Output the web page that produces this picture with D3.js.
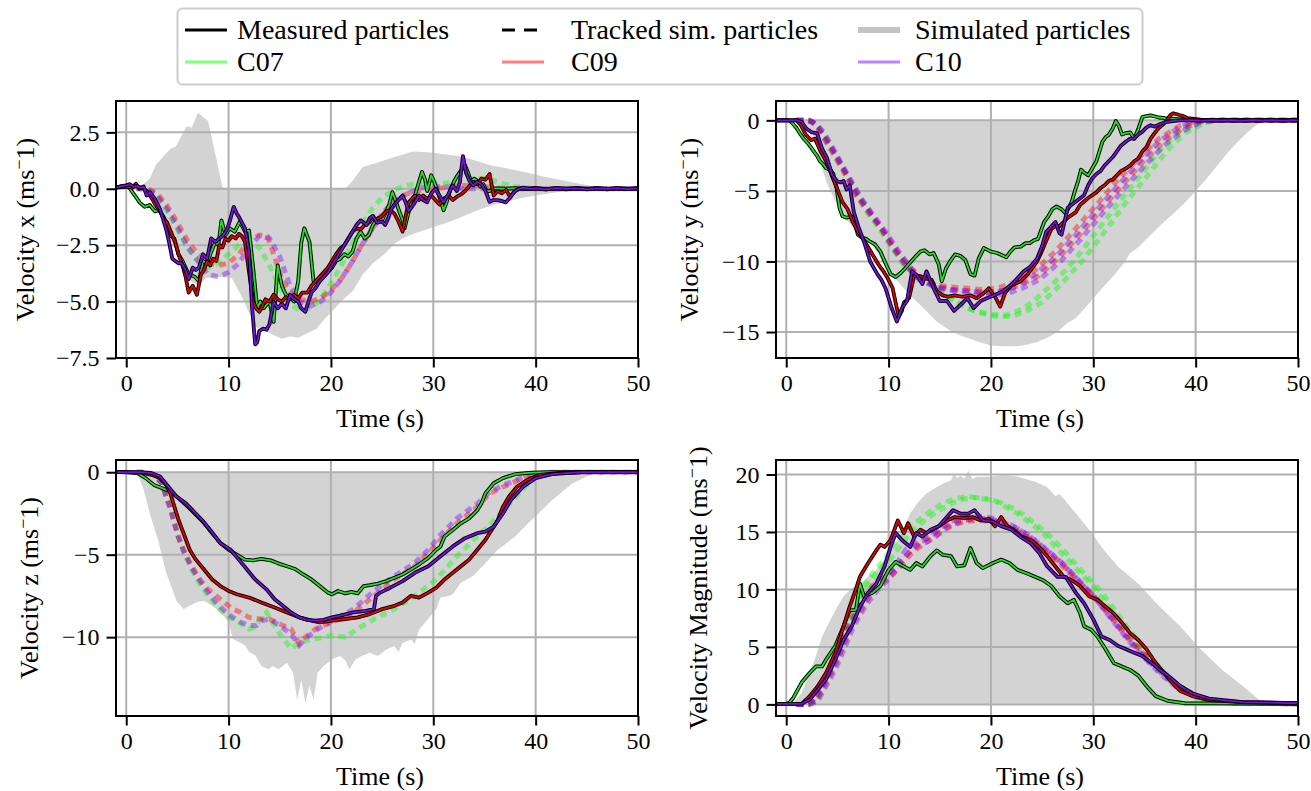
<!DOCTYPE html>
<html><head><meta charset="utf-8">
<script src="https://cdn.jsdelivr.net/npm/d3@7"></script>
<style>
body{margin:0;background:#fff}
svg{display:block}
text{font-family:"Liberation Serif","Times New Roman",serif;fill:#000}
</style>
</head><body>
<svg id="chart" width="1311" height="791"></svg>
<script>
// ---------------- DATA (time s, value m/s) ----------------
const TIME_TICKS = [0, 10, 20, 30, 40, 50];
const SERIES_NAMES = ["C07", "C09", "C10"];
const LEGEND_STYLE_NAMES = ["Measured particles", "Tracked sim. particles", "Simulated particles"];

// Velocity x
const vxSimUpper = [[-1,0],[1,0],[1.3,0.05],[2.3,0.45],[2.9,1.05],[3.9,1.57],[4.4,1.8],[4.8,1.85],[5.2,2.17],[5.9,2.77],[6.4,2.7],[7.0,3.37],[8.0,3.0],[9.4,0.07],[9.6,0],[21.4,0],[22.2,0.4],[23.1,0.97],[24.5,1.15],[26.3,1.42],[28.0,1.65],[30.0,1.6],[32.9,1.42],[34.5,1.2],[35.5,1.05],[38.1,0.82],[41.0,0.52],[44.3,0.22],[46.6,0.03],[47,0],[50,0]];
const vxSimLower = [[-1,0],[1.5,0],[2.5,-0.4],[3.5,-1.4],[4.5,-2.4],[5.5,-3.3],[6.3,-4.1],[7.0,-4.3],[7.8,-3.95],[9.0,-3.9],[10.3,-3.95],[11.2,-4.7],[12.0,-5.5],[12.6,-6.1],[13.6,-6.3],[14.5,-6.5],[15.2,-6.65],[16.0,-6.55],[16.8,-6.6],[17.5,-6.45],[18.6,-6.2],[19.3,-5.8],[20.2,-5.4],[21.0,-5.0],[22.2,-4.5],[23.1,-3.8],[24.1,-3.3],[25.2,-2.9],[26.3,-2.4],[27.0,-2.2],[28.0,-2.0],[30.0,-1.7],[32.0,-1.4],[34.3,-0.95],[36.0,-0.7],[38.4,-0.43],[40.0,-0.3],[42.4,-0.13],[44.5,-0.03],[45.5,0],[50,0]];
const vxMeasC07 = [[-1,0.05],[-0.5,0.1],[0,0.12],[0.3,0.05],[0.6,-0.15],[1.0,-0.4],[1.3,-0.6],[1.8,-0.8],[2.3,-0.72],[2.8,-1.0],[3.2,-0.95],[3.6,-1.2],[4.1,-1.7],[4.4,-2.1],[4.7,-2.2],[5.1,-2.9],[5.5,-3.2],[6.1,-3.8],[6.7,-3.9],[7.1,-4.1],[7.5,-3.2],[7.9,-3.3],[8.3,-2.8],[8.7,-2.35],[9.0,-2.5],[9.3,-1.4],[9.7,-2.05],[10.1,-1.75],[10.6,-1.9],[11.1,-1.45],[11.6,-1.9],[12.0,-1.85],[12.4,-3.5],[12.8,-5.3],[13.1,-5.0],[13.4,-5.3],[14.0,-5.0],[14.4,-5.9],[14.8,-3.4],[15.2,-4.3],[15.6,-4.7],[16.0,-4.8],[16.4,-5.0],[16.8,-4.1],[17.1,-2.4],[17.4,-1.75],[17.9,-2.35],[18.3,-4.1],[18.9,-4.1],[19.3,-3.9],[19.7,-3.7],[20.1,-3.5],[20.5,-3.2],[20.9,-3.1],[21.3,-2.9],[21.7,-3.0],[22.1,-2.8],[22.5,-2.2],[22.9,-1.9],[23.3,-2.2],[23.7,-2.05],[24.1,-1.6],[24.6,-1.3],[25.0,-1.4],[25.4,-1.0],[25.7,-0.7],[26.0,-0.15],[26.3,-0.5],[26.6,-0.9],[27.0,-1.4],[27.2,-1.75],[27.5,-1.2],[27.8,-0.6],[28.2,-0.3],[28.6,0.3],[28.9,0.75],[29.2,0.4],[29.4,-0.1],[29.8,0.6],[30.1,0.3],[30.4,-0.1],[30.7,-0.5],[31.0,-0.95],[31.3,-0.6],[31.7,0.0],[32.0,0.3],[32.3,0.55],[32.7,0.8],[33.1,1.05],[33.4,0.7],[33.7,0.3],[34.0,0.45],[34.3,0.35],[34.6,0.1],[34.9,0.2],[35.2,-0.1],[35.5,-0.1],[36.0,0.02],[37,0.0],[38,0.03],[39,-0.02],[40,0.02],[41,-0.03],[42,0.02],[43,0.0],[44,0.03],[45,-0.02],[46,0.02],[47,-0.03],[48,0.02],[49,0.0],[50,0.02]];
const vxMeasC09 = [[-1,0.05],[0,0.1],[0.6,0.05],[0.95,0.22],[1.3,0.0],[1.6,0.05],[2.0,-0.1],[2.3,-0.3],[2.6,-0.5],[2.9,-0.75],[3.3,-1.0],[3.7,-1.35],[4.0,-1.5],[4.4,-1.95],[4.8,-2.4],[5.1,-2.9],[5.5,-3.4],[5.8,-3.9],[6.1,-4.6],[6.5,-4.3],[6.9,-4.7],[7.3,-3.8],[7.6,-3.6],[7.9,-3.2],[8.2,-3.4],[8.5,-3.1],[8.8,-3.2],[9.1,-2.5],[9.4,-2.6],[9.7,-2.2],[10.0,-2.3],[10.3,-2.1],[10.7,-2.2],[11.0,-2.0],[11.3,-2.1],[11.6,-2.35],[12.0,-3.7],[12.4,-5.0],[12.7,-5.3],[13.0,-5.45],[13.3,-5.2],[13.6,-4.9],[14.0,-5.0],[14.4,-4.7],[14.8,-4.9],[15.2,-5.0],[15.6,-4.8],[16.0,-4.9],[16.4,-4.7],[16.8,-4.85],[17.2,-4.6],[17.7,-4.6],[18.1,-4.3],[18.5,-4.1],[18.9,-3.9],[19.3,-3.7],[19.7,-3.5],[20.1,-3.2],[20.5,-2.9],[20.9,-2.65],[21.3,-2.5],[21.7,-2.2],[22.1,-1.9],[22.5,-1.75],[22.9,-1.8],[23.3,-1.6],[23.7,-1.5],[24.1,-1.3],[24.5,-1.35],[25.0,-1.2],[25.4,-1.0],[25.8,-0.95],[26.2,-1.1],[26.6,-1.45],[27.0,-1.9],[27.3,-1.2],[27.6,-0.6],[28.0,-0.4],[28.2,-0.3],[28.6,-0.5],[29.0,-0.3],[29.4,-0.45],[29.8,-0.3],[30.2,-0.5],[30.6,-0.7],[31.0,-0.45],[31.5,-0.3],[31.9,-0.5],[32.3,-0.35],[32.7,-0.25],[33.1,-0.1],[33.5,0.1],[33.9,0.3],[34.3,0.2],[34.7,0.45],[35.1,0.4],[35.5,0.65],[35.9,-0.3],[36.3,-0.1],[36.7,-0.2],[37.1,-0.05],[37.5,-0.35],[38.1,-0.05],[38.5,0.02],[39,0.0],[40,0.03],[41,-0.02],[42,0.02],[43,-0.03],[44,0.02],[45,0.0],[46,0.03],[47,-0.02],[48,0.02],[49,-0.02],[50,0.02]];
const vxMeasC10 = [[-1,0.05],[-0.5,0.12],[0,0.15],[0.3,0.2],[0.7,0.1],[1.0,0.12],[1.4,0.05],[1.7,0.1],[2.0,-0.3],[2.3,-0.15],[2.8,-0.45],[3.3,-0.9],[3.6,-1.35],[3.9,-1.8],[4.2,-2.4],[4.5,-3.1],[4.8,-3.2],[5.1,-3.3],[5.4,-3.3],[5.7,-3.5],[6.1,-4.0],[6.5,-3.5],[6.8,-3.6],[7.1,-3.5],[7.5,-2.9],[7.9,-3.1],[8.3,-2.2],[8.7,-2.35],[9.1,-2.2],[9.5,-2.05],[9.9,-1.75],[10.2,-1.3],[10.5,-0.8],[10.8,-1.1],[11.0,-1.24],[11.3,-1.5],[11.6,-1.75],[12.0,-2.8],[12.3,-5.3],[12.6,-6.9],[12.8,-6.8],[13.0,-6.3],[13.4,-6.2],[13.7,-6.25],[14.0,-6.0],[14.4,-5.0],[14.8,-5.3],[15.2,-5.1],[15.6,-5.3],[16.0,-4.7],[16.4,-4.9],[16.8,-5.0],[17.1,-5.3],[17.5,-5.45],[17.8,-5.0],[18.1,-4.6],[18.5,-4.4],[18.9,-4.1],[19.3,-3.9],[19.7,-3.7],[20.1,-3.4],[20.5,-3.1],[20.9,-2.8],[21.3,-2.5],[21.7,-2.2],[22.1,-1.9],[22.5,-1.6],[22.9,-1.4],[23.2,-1.5],[23.5,-1.6],[23.8,-1.3],[24.1,-1.2],[24.5,-1.5],[25.0,-1.45],[25.3,-1.6],[25.6,-1.3],[25.9,-0.9],[26.2,-0.7],[26.6,-0.5],[27.0,-0.3],[27.3,-0.6],[27.6,-1.0],[27.9,-0.8],[28.2,-0.6],[28.6,-0.3],[29.0,-0.5],[29.4,-0.6],[29.8,-0.2],[30.2,0.0],[30.6,-0.3],[31.0,-0.6],[31.4,-0.3],[31.9,0.15],[32.3,-0.1],[32.6,0.3],[32.9,1.45],[33.2,0.7],[33.6,0.3],[33.9,0.15],[34.3,0.3],[34.7,0.2],[35.1,-0.1],[35.5,-0.58],[35.9,-0.5],[36.3,-0.5],[36.7,-0.55],[37.1,-0.6],[37.5,-0.4],[37.9,-0.13],[38.4,0.0],[38.8,0.05],[39.5,0.0],[40,0.02],[41,-0.03],[42,0.03],[43,0.0],[44,0.02],[45,-0.03],[46,0.02],[47,0.0],[48,0.03],[49,-0.02],[50,0.02]];
const vxTrackC07 = [[1,0],[2,0],[3,-0.3],[4,-1.0],[5,-1.8],[6,-2.6],[7,-3.2],[8,-3.5],[9,-3.3],[10,-2.9],[11,-2.5],[12,-2.4],[13,-2.6],[14,-3.4],[15,-4.4],[16,-5.1],[17,-5.4],[18,-5.3],[19,-4.9],[20,-4.2],[21,-3.4],[22,-2.5],[23,-1.6],[24,-0.9],[25,-0.4],[26,-0.1],[27,0.1],[28,0.2],[29,0.25],[30,0.25],[31,0.25],[32,0.3],[33,0.4],[34,0.45],[35,0.45],[36,0.35],[37,0.2],[38,0.1],[39,0.05],[40,0],[50,0]];
const vxTrackC09 = [[1,0],[2,0],[2.6,-0.1],[3,-0.2],[4,-0.75],[5,-1.5],[6,-2.3],[7,-2.9],[8,-3.3],[9,-3.4],[10,-3.3],[11,-2.9],[12,-2.3],[13,-2.05],[13.8,-2.1],[14.4,-2.9],[15.2,-4.0],[16,-4.6],[17,-4.9],[18,-5.0],[19,-4.85],[20,-4.5],[21,-4.0],[22,-3.3],[23,-2.5],[24,-1.8],[25,-1.1],[26,-0.6],[27,-0.3],[28,-0.15],[29,-0.05],[30,0],[31,0.05],[32,0.1],[33,0.15],[34,0.15],[35,0.1],[36,0.05],[37,0],[50,0]];
const vxTrackC10 = [[1,0],[2,0],[3,-0.3],[4,-0.9],[5,-1.7],[6,-2.6],[7,-3.2],[8,-3.8],[9,-3.9],[10,-3.7],[11,-3.3],[12,-2.6],[13,-2.1],[14,-2.2],[15,-3.0],[16,-4.3],[17,-5.0],[18,-5.2],[19,-5.0],[20,-4.6],[21,-4.0],[22,-3.3],[23,-2.5],[24,-1.8],[25,-1.2],[26,-0.7],[27,-0.35],[28,-0.1],[29,0.05],[30,0.1],[31,0.1],[32,0.05],[33,0],[50,0]];

// Velocity y
const vySimUpper = [[-1,0],[50,0]];
const vySimLower = [[-1,0],[1.5,0],[2,-0.3],[2.6,-1.0],[3,-2.0],[3.3,-3.0],[4,-4.5],[4.96,-6.0],[5.8,-7.0],[6.6,-7.6],[7.4,-8.1],[8.2,-8.6],[9.0,-9.5],[9.8,-10.5],[11,-11.5],[12.1,-12.4],[13.4,-13.3],[14.7,-14.25],[16,-14.9],[17,-15.25],[18,-15.5],[19,-15.75],[20,-15.95],[21.2,-16.0],[22.5,-16.0],[23.5,-15.9],[24.5,-15.7],[25.5,-15.4],[26.5,-15.0],[27.4,-14.4],[28.3,-14.0],[29.2,-13.3],[30,-12.6],[31,-11.8],[32,-11.0],[33,-10.1],[33.6,-9.4],[34.4,-9.0],[35.5,-8.2],[36.9,-7.2],[38,-6.5],[39,-5.8],[40,-5.0],[41,-4.2],[42,-3.3],[43,-2.4],[44,-1.6],[45,-0.9],[45.7,-0.45],[46.4,-0.15],[47,-0.03],[47.5,0],[50,0]];
const vyMeasC07 = [[-1,0],[0,0.02],[0.3,0],[0.6,-0.2],[1.05,-0.6],[1.4,-1.0],[1.7,-1.3],[2.2,-1.7],[2.7,-2.2],[3.0,-2.5],[3.3,-2.9],[3.6,-3.1],[3.9,-3.4],[4.3,-3.5],[4.6,-3.8],[4.9,-4.7],[5.2,-6.2],[5.5,-6.8],[5.9,-6.9],[6.4,-6.8],[6.6,-7.0],[7.0,-8.1],[7.4,-8.3],[7.8,-8.4],[8.2,-8.6],[8.7,-8.8],[9.2,-9.3],[9.8,-10.3],[10.2,-10.9],[10.7,-11.1],[11.2,-10.8],[11.6,-10.5],[12.2,-10.0],[12.7,-9.6],[13.1,-9.3],[13.5,-9.2],[14.0,-9.5],[14.4,-9.4],[14.9,-10.2],[15.2,-11.4],[15.6,-10.5],[16.0,-10.0],[16.5,-9.5],[17.0,-9.6],[17.5,-9.9],[18.0,-10.9],[18.4,-11.0],[18.8,-9.8],[19.3,-9.05],[20.0,-9.3],[20.6,-9.4],[21.2,-9.6],[21.5,-9.7],[21.9,-9.3],[22.3,-9.0],[22.9,-8.95],[23.4,-8.7],[23.8,-8.7],[24.2,-8.5],[24.6,-8.4],[25.2,-7.2],[25.6,-6.8],[26.0,-6.3],[26.4,-6.1],[26.9,-6.3],[27.3,-6.6],[27.6,-6.2],[27.9,-5.75],[28.2,-5.0],[28.5,-4.35],[28.8,-3.5],[29.1,-3.7],[29.5,-3.9],[29.9,-3.4],[30.3,-2.9],[30.6,-2.2],[30.9,-1.5],[31.2,-1.2],[31.5,-1.04],[31.9,-0.57],[32.2,-0.05],[32.5,-0.4],[32.8,-1.0],[33.2,-0.9],[33.6,-0.85],[34.0,-1.3],[34.4,-0.6],[34.8,0.25],[35.2,0.3],[35.6,0.35],[36.4,0.2],[37.0,0.15],[38,0.1],[39.6,0.0],[41,0.02],[42,-0.02],[43,0.02],[44,0],[45,0.02],[46,-0.02],[47,0.02],[48,0],[49,0.02],[50,0]];
const vyMeasC09 = [[-1,0],[0,0],[1.0,0],[1.4,-0.3],[1.9,-1.0],[2.4,-1.4],[2.8,-1.3],[3.3,-2.1],[3.9,-2.9],[4.5,-4.0],[5.0,-4.9],[5.5,-5.8],[6.0,-6.3],[6.5,-7.2],[7.0,-7.9],[7.5,-8.4],[8.0,-9.0],[8.5,-9.6],[9.0,-10.2],[9.5,-10.7],[10.0,-11.3],[10.4,-11.9],[10.8,-13.3],[11.0,-13.9],[11.3,-13.5],[11.5,-12.9],[12.0,-12.6],[12.5,-11.0],[13.1,-11.05],[13.6,-11.2],[14.2,-11.3],[14.7,-12.1],[15.3,-12.4],[15.8,-12.5],[16.4,-12.4],[17.2,-12.5],[18.0,-12.4],[18.6,-12.6],[19.2,-12.3],[19.8,-11.9],[20.4,-12.5],[20.9,-13.2],[21.4,-12.2],[22.0,-11.7],[22.9,-11.4],[23.6,-10.9],[24.5,-10.0],[24.9,-9.4],[25.3,-8.7],[25.9,-7.7],[26.3,-7.5],[26.7,-7.5],[27.1,-7.2],[27.5,-6.9],[28.3,-6.5],[28.7,-6.0],[29.1,-5.75],[29.5,-5.5],[29.9,-5.3],[30.3,-5.1],[30.7,-4.8],[31.1,-4.6],[31.5,-4.3],[31.9,-4.2],[32.3,-3.9],[32.7,-3.6],[33.2,-3.4],[33.6,-3.2],[34.0,-2.9],[34.4,-2.7],[34.8,-2.2],[35.2,-1.9],[35.6,-1.3],[36.0,-0.9],[36.4,-0.55],[36.8,-0.3],[37.2,0.0],[37.5,0.35],[37.8,0.5],[38.1,0.45],[38.4,0.38],[38.8,0.3],[39.2,0.15],[40.5,0.05],[41.5,0.0],[42.5,0.02],[43.5,-0.02],[44.5,0.02],[45.5,0],[46.5,0.02],[47.5,-0.02],[48.5,0.02],[49.5,0],[50,0.02]];
const vyMeasC10 = [[-1,0],[0,0],[1.0,0.02],[1.5,-0.1],[2.0,-0.6],[2.5,-0.85],[3.0,-0.9],[3.5,-2.0],[4.0,-2.7],[4.5,-3.9],[4.95,-4.3],[5.3,-4.4],[5.6,-4.3],[5.9,-4.9],[6.2,-4.6],[6.6,-6.5],[7.1,-7.65],[7.6,-8.6],[8.2,-10.0],[8.9,-10.9],[9.3,-11.3],[9.7,-11.9],[10.3,-13.3],[10.8,-14.25],[11.1,-13.7],[11.3,-13.3],[11.8,-12.8],[12.3,-10.7],[12.8,-11.0],[13.3,-11.6],[13.7,-10.7],[14.0,-11.2],[14.4,-11.9],[15.0,-12.8],[15.7,-12.8],[16.4,-13.5],[17.0,-13.1],[17.7,-12.6],[18.3,-13.3],[19.0,-12.8],[19.6,-12.6],[20.3,-12.4],[21.2,-12.1],[22.2,-11.5],[23.2,-10.7],[23.8,-10.4],[24.5,-9.8],[25.0,-8.9],[25.4,-7.9],[25.8,-7.6],[26.3,-7.2],[26.7,-8.0],[26.9,-8.1],[27.5,-6.2],[28.3,-5.75],[29.1,-5.3],[29.5,-4.6],[29.9,-4.1],[30.3,-3.8],[30.7,-3.6],[31.1,-3.2],[31.5,-2.9],[31.9,-2.6],[32.3,-2.2],[32.7,-1.8],[33.2,-1.5],[33.6,-1.3],[34.0,-1.3],[34.4,-1.0],[34.8,-0.8],[35.2,-0.5],[35.6,-0.35],[36.0,-0.45],[36.4,-0.3],[37.2,-0.1],[38.4,0],[39.5,0.02],[40.5,-0.02],[41.5,0.02],[42.5,0],[43.5,0.02],[44.5,-0.02],[45.5,0.02],[46.5,0],[47.5,0.02],[48.5,-0.02],[49.5,0.02],[50,0]];
const vyTrackC07 = [[1,0],[2,0],[2.7,-0.2],[3.4,-0.9],[4.6,-2.4],[5.9,-4.0],[7.0,-5.4],[7.9,-6.5],[8.9,-7.5],[10.2,-8.9],[11.5,-10.3],[12.8,-11.0],[14.7,-11.8],[16.4,-12.8],[18,-13.4],[20,-13.75],[21.5,-13.8],[23,-13.4],[24.2,-12.8],[26.3,-11.4],[28.3,-9.8],[30.3,-7.9],[32.3,-6.0],[34.4,-4.1],[36.4,-2.2],[38.4,-0.8],[40.5,-0.1],[42,0],[50,0]];
const vyTrackC07b = [[1,0],[2.2,0],[3.0,-0.3],[3.8,-1.0],[5.0,-2.6],[6.3,-4.3],[7.4,-5.6],[8.4,-6.8],[9.4,-7.8],[10.7,-9.2],[12.0,-10.5],[13.4,-11.3],[15.3,-12.2],[17.0,-13.0],[18.6,-13.6],[20.5,-13.9],[22.0,-13.9],[23.5,-13.5],[25.0,-12.9],[27.0,-11.5],[29.0,-9.9],[31.0,-8.0],[33.0,-6.0],[35.0,-4.2],[37.0,-2.3],[39.0,-0.9],[41.0,-0.15],[42.5,0],[50,0]];
const vyTrackC09 = [[1,0],[2,0],[2.5,-0.1],[3.1,-0.57],[4.3,-2.0],[5.6,-3.6],[6.8,-5.3],[8.0,-6.5],[9.2,-7.6],[10.4,-9.0],[11.6,-10.2],[12.9,-11.2],[14.5,-11.65],[16.1,-11.8],[17.7,-11.9],[19.4,-12.0],[21.0,-11.8],[22.6,-11.4],[24.2,-10.7],[26.3,-9.3],[28.3,-7.65],[30.3,-6.0],[32.3,-4.3],[34.4,-2.7],[36.4,-1.3],[38.4,-0.4],[40.0,-0.05],[41,0],[50,0]];
const vyTrackC09b = [[1,0],[2.2,0],[2.9,-0.3],[3.6,-0.9],[4.8,-2.4],[6.1,-4.1],[7.3,-5.6],[8.5,-6.8],[9.7,-8.0],[10.9,-9.3],[12.1,-10.4],[13.4,-11.3],[15,-11.8],[16.6,-12.0],[18.2,-12.1],[19.9,-12.2],[21.5,-12.0],[23.1,-11.6],[24.7,-11.0],[26.8,-9.6],[28.8,-8.0],[30.8,-6.3],[32.8,-4.6],[34.9,-2.9],[36.9,-1.5],[38.9,-0.5],[40.5,-0.1],[41.5,0],[50,0]];
const vyTrackC10 = [[1,0],[2,0],[2.6,-0.1],[3.2,-0.6],[4.4,-2.0],[5.7,-3.6],[6.9,-5.3],[8.1,-6.5],[9.3,-7.7],[10.5,-9.1],[11.7,-10.3],[13.0,-11.3],[14.5,-11.8],[16.1,-12.0],[17.7,-12.1],[19.4,-12.2],[21.0,-12.1],[22.6,-11.7],[24.2,-11.0],[26.3,-9.7],[28.3,-8.1],[30.3,-6.4],[32.3,-4.7],[34.4,-3.0],[36.4,-1.5],[38.4,-0.5],[40.0,-0.1],[41.5,0],[50,0]];
const vyTrackC10b = [[1,0],[2.3,0],[3.0,-0.3],[3.7,-0.9],[4.9,-2.4],[6.2,-4.1],[7.4,-5.6],[8.6,-6.8],[9.8,-8.0],[11.0,-9.3],[12.2,-10.5],[13.5,-11.4],[15,-11.9],[16.6,-12.1],[18.2,-12.3],[19.9,-12.4],[21.5,-12.3],[23.1,-11.9],[24.7,-11.3],[26.8,-10.0],[28.8,-8.4],[30.8,-6.7],[32.8,-5.0],[34.9,-3.3],[36.9,-1.8],[38.9,-0.7],[40.5,-0.15],[42,0],[50,0]];

// Velocity z
const vzSimUpper = [[-1,0],[50,0]];
const vzSimLower = [[-1,0],[1.1,-0.05],[1.7,-1.07],[2.3,-2.5],[3.1,-4.1],[3.9,-6.1],[4.5,-7.1],[4.9,-7.8],[5.6,-8.3],[6.2,-8.1],[6.8,-7.9],[7.6,-7.8],[8.4,-8.1],[9.2,-8.5],[10.0,-9.1],[10.4,-10.1],[11.0,-10.3],[11.6,-10.5],[12.0,-10.9],[12.6,-11.1],[13.2,-11.75],[13.9,-11.95],[14.3,-11.75],[14.9,-11.95],[15.7,-11.55],[16.3,-12.15],[16.7,-13.8],[17.1,-12.6],[17.5,-14.0],[17.9,-12.95],[18.3,-13.8],[18.7,-12.15],[19.3,-11.75],[20.1,-11.35],[20.9,-11.15],[21.4,-11.4],[21.8,-11.95],[22.4,-11.35],[23.0,-11.15],[23.8,-10.95],[24.6,-11.15],[25.4,-10.75],[26.2,-10.55],[26.6,-10.9],[27.0,-10.35],[27.8,-10.15],[28.2,-10.4],[28.6,-9.55],[29.5,-8.9],[30.3,-8.3],[30.7,-7.6],[31.5,-7.5],[31.9,-7.4],[32.7,-6.7],[33.9,-6.3],[35.1,-5.5],[36.3,-4.7],[38.0,-3.9],[39.6,-2.9],[41.6,-1.7],[43.6,-0.67],[45.7,-0.06],[46.5,0],[50,0]];
const vzMeasC07 = [[-1,0],[0,0],[1.1,-0.05],[1.9,-0.36],[2.7,-0.77],[3.5,-0.97],[4.3,-1.17],[5.1,-1.57],[6.0,-2.08],[6.8,-2.58],[7.6,-3.08],[8.4,-3.7],[9.2,-4.3],[10.0,-4.7],[10.8,-5.0],[11.6,-5.3],[12.4,-5.34],[13.2,-5.26],[14.1,-5.34],[14.9,-5.54],[15.7,-5.7],[16.5,-5.87],[17.3,-6.2],[18.1,-6.5],[18.9,-6.9],[19.7,-7.3],[20.1,-7.4],[20.7,-7.2],[21.4,-7.35],[22.0,-7.25],[22.6,-7.35],[23.2,-6.9],[23.8,-6.85],[24.6,-6.75],[25.4,-6.6],[26.2,-6.4],[27.0,-6.2],[27.8,-5.9],[28.6,-5.6],[29.5,-5.2],[30.3,-4.7],[30.7,-4.5],[31.1,-3.9],[31.9,-3.5],[32.7,-3.1],[33.5,-2.8],[34.3,-2.3],[34.7,-1.9],[35.1,-1.27],[35.9,-0.67],[36.8,-0.36],[38.0,-0.12],[39.6,-0.02],[41.2,0],[50,0]];
const vzMeasC09 = [[-1,0],[1.5,-0.02],[2.5,-0.16],[3.3,-0.36],[3.9,-0.77],[4.3,-1.27],[4.7,-2.08],[5.1,-2.88],[5.6,-3.7],[6.2,-4.7],[6.8,-5.3],[7.6,-5.9],[8.4,-6.5],[9.2,-6.9],[10.0,-7.2],[10.8,-7.4],[12.0,-7.6],[13.2,-7.9],[14.5,-8.2],[15.7,-8.5],[16.9,-8.8],[18.1,-9.0],[18.9,-9.1],[20.1,-9.0],[21.4,-8.9],[22.6,-8.8],[23.8,-8.6],[25.0,-8.3],[26.2,-8.1],[27.0,-7.9],[27.8,-7.5],[28.6,-7.6],[29.5,-7.3],[30.3,-7.0],[31.1,-6.5],[31.9,-6.1],[32.7,-5.7],[33.5,-5.3],[34.3,-4.7],[35.1,-4.1],[35.9,-3.3],[36.3,-2.9],[36.8,-2.1],[37.4,-1.47],[38.2,-0.87],[39.2,-0.46],[40.4,-0.16],[42.4,-0.04],[44.5,0],[50,0]];
const vzMeasC10 = [[-1,0],[1.5,0],[2.5,-0.06],[3.3,-0.26],[4.1,-0.87],[4.9,-1.47],[5.8,-1.87],[6.6,-2.38],[7.4,-2.9],[8.2,-3.5],[9.2,-4.3],[10.2,-4.7],[11.0,-5.3],[11.8,-5.9],[12.6,-6.5],[13.7,-7.1],[14.5,-7.7],[15.3,-8.1],[16.1,-8.5],[16.9,-8.8],[17.7,-8.95],[18.5,-9.0],[19.3,-8.95],[20.1,-8.8],[20.9,-8.7],[22.2,-8.5],[23.4,-8.4],[24.2,-8.3],[24.4,-7.5],[24.8,-7.3],[25.8,-7.0],[27.0,-6.6],[28.2,-6.1],[29.5,-5.7],[30.7,-5.1],[31.9,-4.5],[33.1,-4.0],[34.3,-3.7],[35.1,-3.6],[35.9,-3.3],[36.8,-2.5],[37.6,-1.67],[38.8,-0.87],[40.0,-0.36],[41.6,-0.12],[44.5,0],[50,0]];
const vzTrackC07 = [[1,0],[2,0],[2.7,-0.16],[3.5,-0.7],[3.9,-1.5],[4.3,-2.2],[4.7,-3.1],[5.1,-3.95],[5.6,-4.8],[6.4,-5.9],[7.2,-6.8],[8.0,-7.5],[8.8,-8.1],[9.6,-8.6],[10.4,-8.9],[11.2,-9.2],[12.0,-9.5],[12.5,-9.4],[13.7,-8.5],[14.9,-9.7],[16.1,-10.7],[16.9,-10.3],[18.5,-10.1],[20.1,-9.9],[21.4,-10.0],[22.6,-9.5],[24.2,-8.9],[26.2,-8.3],[28.2,-7.5],[30.3,-6.5],[32.3,-5.1],[34.3,-3.9],[36.3,-2.7],[38.4,-1.27],[40.0,-0.26],[41.6,-0.02],[42.5,0],[50,0]];
const vzTrackC09 = [[1,0],[2,0],[2.7,-0.16],[3.5,-0.67],[3.9,-1.47],[4.3,-2.08],[4.7,-3.08],[5.1,-3.9],[5.6,-4.7],[6.4,-5.7],[7.2,-6.5],[8.0,-7.1],[8.8,-7.5],[9.6,-7.9],[10.4,-8.3],[11.2,-8.5],[12.0,-8.8],[13.0,-8.9],[14.0,-8.9],[15.0,-9.2],[16.1,-9.5],[16.9,-10.4],[17.5,-10.0],[18.5,-9.5],[20.1,-9.1],[22.2,-8.5],[24.2,-7.5],[26.2,-6.5],[28.2,-5.7],[29.5,-4.9],[30.7,-4.1],[32.3,-3.1],[34.3,-2.1],[35.5,-1.3],[36.8,-0.9],[38.4,-0.46],[39.6,-0.16],[41.2,-0.02],[42,0],[50,0]];
const vzTrackC10 = [[1,0],[2,0],[2.7,-0.16],[3.5,-0.7],[3.9,-1.5],[4.3,-2.2],[4.7,-3.1],[5.1,-3.95],[5.6,-4.8],[6.4,-5.8],[7.2,-6.6],[8.0,-7.3],[8.8,-7.9],[9.6,-8.4],[10.4,-8.8],[11.2,-9.1],[12.0,-9.3],[12.7,-9.3],[13.3,-9.0],[14.0,-8.9],[15.0,-9.3],[16.1,-9.8],[16.9,-10.5],[17.5,-10.1],[18.5,-9.6],[20.1,-9.0],[22.2,-8.3],[24.2,-7.2],[26.2,-6.3],[28.2,-5.5],[29.5,-4.7],[30.7,-3.8],[32.3,-2.8],[34.3,-1.9],[35.5,-1.2],[36.8,-0.8],[38.4,-0.4],[39.6,-0.15],[41.2,-0.02],[42,0],[50,0]];

// Velocity magnitude
const vmSimUpper = [[-1,0],[0.5,0],[0.7,0.15],[1.5,1.0],[2.3,2.75],[2.9,4.2],[3.5,5.9],[4.35,7.4],[5.0,8.5],[5.6,9.4],[6.4,10.1],[7.2,10.5],[8.0,11.1],[8.8,11.7],[9.6,12.6],[10.4,13.7],[11.3,14.9],[12.1,16.6],[12.9,17.6],[13.7,18.35],[14.5,18.8],[15.3,19.2],[16.1,19.5],[16.4,20.1],[16.7,19.7],[17.0,19.9],[17.4,19.65],[17.8,20.3],[18.2,19.6],[18.6,19.8],[19.4,19.8],[20.2,19.85],[21.4,19.95],[22.6,19.8],[24.3,19.4],[25.5,18.9],[26.3,18.1],[26.7,18.3],[27.1,17.9],[28.3,16.6],[29.6,15.2],[30.8,13.7],[32.4,12.0],[34.4,10.5],[36.5,8.5],[38.5,6.8],[40.5,4.8],[42.6,3.0],[44.6,1.6],[46.2,0.4],[47.0,0.1],[47.5,0],[50,0]];
const vmSimLower = [[-1,0],[50,0]];
const vmMeasC07 = [[-1,0.05],[0,0.05],[0.3,0.15],[0.7,0.58],[1.5,1.9],[2.3,2.75],[2.9,3.3],[3.5,3.3],[3.9,3.9],[4.8,5.1],[5.6,6.8],[6.2,8.2],[6.8,8.2],[7.2,10.5],[7.6,9.4],[8.4,9.7],[9.2,10.3],[10.0,11.7],[10.7,12.4],[11.3,12.1],[12.1,11.7],[12.7,12.3],[13.3,12.0],[14.1,12.9],[14.7,13.4],[15.3,13.0],[16.1,12.9],[16.7,12.0],[17.4,12.1],[18.0,13.6],[18.6,12.3],[19.2,11.85],[20.2,12.3],[21.0,12.6],[21.8,12.3],[22.6,11.7],[23.5,11.4],[24.3,11.1],[25.1,10.8],[25.9,10.3],[26.7,9.4],[27.5,8.8],[28.1,9.1],[28.7,7.95],[29.1,6.8],[29.8,6.5],[30.4,5.9],[31.2,4.8],[32.0,3.6],[32.8,3.3],[33.6,3.0],[34.4,2.5],[35.2,1.6],[36.1,0.72],[37.3,0.3],[38.9,0.1],[50,0.05]];
const vmMeasC09 = [[-1,0.05],[0,0.05],[1.5,0.05],[2.3,0.72],[3.1,1.6],[3.9,2.75],[4.8,4.5],[5.6,6.8],[6.2,8.5],[6.8,10.0],[7.2,11.1],[8.0,12.3],[8.8,13.4],[9.2,13.9],[9.6,13.7],[10.2,14.3],[10.9,16.0],[11.5,14.9],[11.9,15.75],[12.5,14.6],[13.1,15.2],[13.7,14.9],[14.3,15.2],[14.9,15.5],[15.7,16.0],[16.5,16.3],[17.4,16.2],[18.2,16.3],[19.0,16.0],[19.8,16.15],[20.4,15.5],[21.0,16.3],[21.6,15.5],[22.2,15.2],[23.0,14.6],[23.9,14.3],[24.7,13.7],[25.5,12.9],[26.3,12.0],[27.1,11.1],[27.9,10.8],[28.7,10.3],[29.6,9.4],[30.4,9.1],[31.2,8.5],[32.0,7.9],[32.8,7.1],[33.6,6.2],[34.4,5.6],[35.2,4.8],[36.1,3.6],[36.9,2.75],[37.7,1.9],[38.5,1.16],[39.7,0.72],[41.3,0.38],[44.6,0.2],[50,0.1]];
const vmMeasC10 = [[-1,0.05],[0,0.05],[1.5,0.05],[2.3,0.43],[3.1,1.3],[3.9,2.2],[4.8,3.9],[5.6,5.6],[6.4,6.8],[7.2,8.5],[8.0,9.7],[8.8,10.5],[9.6,12.0],[10.2,13.7],[10.7,14.9],[11.3,14.3],[12.1,13.7],[12.7,14.9],[13.3,14.6],[14.1,15.2],[14.9,15.5],[15.7,16.3],[16.3,16.9],[17.0,16.6],[17.8,16.6],[18.4,16.9],[19.2,16.0],[20.2,15.9],[21.0,15.5],[22.0,15.2],[23.0,14.5],[23.9,14.0],[24.7,13.2],[25.5,12.0],[26.5,11.1],[27.3,11.1],[28.3,9.7],[29.1,8.8],[30.0,7.4],[30.8,5.9],[31.6,5.6],[32.4,5.1],[33.2,4.8],[34.0,4.5],[34.8,4.2],[35.7,3.6],[36.5,3.0],[37.3,2.5],[38.5,1.6],[39.7,0.95],[41.3,0.5],[44.6,0.2],[50,0.1]];
const vmTrackC07 = [[1,0],[1.9,0],[2.7,0.15],[3.5,1.6],[4.35,3.0],[5.2,4.8],[6.0,6.8],[6.8,8.5],[7.6,10.3],[8.4,11.4],[9.6,12.6],[10.4,13.7],[11.7,15.2],[12.9,16.0],[14.1,16.8],[15.3,17.5],[16.5,17.9],[17.8,18.1],[19.0,17.9],[20.2,17.8],[21.4,17.2],[22.6,16.6],[23.9,15.75],[25.1,14.9],[26.3,13.7],[27.5,12.6],[28.7,11.4],[30.0,10.3],[31.2,8.8],[32.4,7.4],[33.6,5.9],[34.8,4.5],[36.1,3.3],[37.3,2.2],[38.5,1.3],[39.7,0.72],[40.9,0.38],[43.0,0.12],[50,0.05]];
const vmTrackC07b = [[1,0],[2.2,0],[3.0,0.3],[3.8,1.8],[4.6,3.2],[5.5,5.0],[6.3,7.0],[7.1,8.7],[7.9,10.2],[8.8,11.3],[10.0,12.4],[10.9,13.5],[12.2,15.0],[13.4,15.9],[14.6,16.7],[15.8,17.3],[17.0,17.8],[18.3,18.0],[19.5,17.9],[20.8,17.6],[22.0,17.1],[23.2,16.5],[24.5,15.6],[25.7,14.7],[26.9,13.6],[28.1,12.4],[29.3,11.2],[30.6,10.0],[31.8,8.6],[33.0,7.1],[34.2,5.7],[35.4,4.3],[36.7,3.0],[37.9,2.0],[39.1,1.1],[40.3,0.6],[41.5,0.3],[43.5,0.1],[50,0.05]];
const vmTrackC09 = [[1,0],[1.9,0],[2.7,0.43],[3.5,1.9],[4.35,3.3],[5.2,5.3],[6.0,7.1],[6.8,8.2],[7.6,9.4],[8.4,10.3],[9.2,10.8],[10.0,11.4],[10.9,12.0],[11.7,12.9],[12.5,13.7],[13.3,14.3],[14.1,14.7],[14.9,15.2],[15.7,15.6],[17.0,16.0],[18.6,16.2],[20.2,16.0],[21.8,15.5],[23.5,14.6],[25.1,13.4],[26.7,12.3],[28.3,10.8],[30.0,9.4],[31.6,7.7],[33.2,5.9],[34.8,4.5],[36.5,3.0],[38.1,1.7],[39.7,0.87],[41.3,0.38],[43.7,0.15],[50,0.05]];
const vmTrackC09b = [[1,0],[2.2,0],[3.0,0.4],[3.8,1.7],[4.7,3.2],[5.6,5.1],[6.4,6.9],[7.2,8.0],[8.0,9.2],[8.8,10.1],[9.6,10.7],[10.4,11.3],[11.3,12.1],[12.1,13.0],[12.9,13.6],[13.7,14.1],[14.5,14.6],[15.3,15.1],[16.1,15.5],[17.4,15.9],[19.0,16.0],[20.6,15.8],[22.2,15.3],[23.9,14.4],[25.5,13.3],[27.1,12.1],[28.7,10.6],[30.4,9.1],[32.0,7.4],[33.6,5.7],[35.2,4.2],[36.9,2.7],[38.5,1.5],[40.1,0.75],[41.7,0.3],[44,0.12],[50,0.05]];
const vmTrackC10 = [[1,0],[2.0,0],[2.8,0.3],[3.6,1.7],[4.4,3.1],[5.3,5.0],[6.1,6.8],[6.9,8.0],[7.7,9.2],[8.5,10.1],[9.3,10.7],[10.1,11.4],[10.9,12.4],[11.7,13.5],[12.5,14.0],[13.3,14.2],[14.1,14.6],[14.9,15.2],[15.7,15.8],[17.0,16.2],[18.6,16.4],[20.2,16.2],[21.8,15.7],[23.5,14.8],[25.1,13.7],[26.7,12.5],[28.3,11.0],[30.0,9.4],[31.6,7.6],[33.2,5.8],[34.8,4.2],[36.5,2.7],[38.1,1.5],[39.7,0.8],[41.3,0.35],[43.7,0.12],[50,0.05]];
const vmTrackC10b = [[1,0],[2.3,0],[3.1,0.3],[3.9,1.6],[4.8,3.0],[5.7,4.9],[6.5,6.6],[7.3,7.9],[8.1,9.0],[8.9,9.9],[9.7,10.6],[10.5,11.4],[11.3,12.5],[12.1,13.3],[12.9,13.8],[13.7,14.1],[14.5,14.5],[15.3,15.1],[16.1,15.6],[17.4,16.0],[19.0,16.2],[20.6,16.0],[22.2,15.5],[23.9,14.6],[25.5,13.4],[27.1,12.2],[28.7,10.7],[30.4,9.1],[32.0,7.3],[33.6,5.5],[35.2,3.9],[36.9,2.5],[38.5,1.4],[40.1,0.7],[41.7,0.3],[44,0.1],[50,0.05]];

// ---------------- STYLE / LAYOUT ----------------
const MEAS_COLORS = ["#22e022", "#e60000", "#7410e6"];
const TRACK_COLORS = ["#00ff00", "#ff0000", "#8000ff"];
const LEGEND_COLORS = ["#80ff80", "#ff8080", "#c080ff"];
const GRAY_FILL = "#d3d3d3";
const GRID = "#b0b0b0";

const panels = [
  {l:116, r:638, t:101, b:358, ydom:[-7.5, 3.89], yticks:[-7.5,-5,-2.5,0,2.5], fmt:".1f", label:"Velocity x (ms", labelX:34,
   upper:vxSimUpper, lower:vxSimLower,
   tracks:[[vxTrackC07,0],[vxTrackC09,1],[vxTrackC10,2]],
   meas:[vxMeasC07,vxMeasC09,vxMeasC10]},
  {l:776, r:1298, t:101, b:358, ydom:[-16.84, 1.37], yticks:[-15,-10,-5,0], fmt:"d", label:"Velocity y (ms", labelX:698,
   upper:vySimUpper, lower:vySimLower,
   tracks:[[vyTrackC07,0],[vyTrackC07b,0],[vyTrackC09,1],[vyTrackC09b,1],[vyTrackC10,2],[vyTrackC10b,2]],
   meas:[vyMeasC07,vyMeasC09,vyMeasC10]},
  {l:116, r:638, t:460, b:716, ydom:[-14.78, 0.74], yticks:[-10,-5,0], fmt:"d", label:"Velocity z (ms", labelX:38,
   upper:vzSimUpper, lower:vzSimLower,
   tracks:[[vzTrackC07,0],[vzTrackC09,1],[vzTrackC10,2]],
   meas:[vzMeasC07,vzMeasC09,vzMeasC10]},
  {l:776, r:1298, t:460, b:716, ydom:[-1.01, 21.26], yticks:[0,5,10,15,20], fmt:"d", label:"Velocity Magnitude (ms", labelX:707,
   upper:vmSimUpper, lower:vmSimLower,
   tracks:[[vmTrackC07,0],[vmTrackC07b,0],[vmTrackC09,1],[vmTrackC09b,1],[vmTrackC10,2],[vmTrackC10b,2]],
   meas:[vmMeasC07,vmMeasC09,vmMeasC10]}
];

const svg = d3.select("#chart");
svg.append("rect").attr("width",1311).attr("height",791).attr("fill","#fff");

panels.forEach((p, i) => {
  const x = d3.scaleLinear().domain([-1, 50]).range([p.l, p.r]);
  const y = d3.scaleLinear().domain(p.ydom).range([p.b, p.t]);
  const g = svg.append("g");
  const clipId = "clip" + i;
  svg.append("clipPath").attr("id", clipId).append("rect")
    .attr("x", p.l).attr("y", p.t).attr("width", p.r - p.l).attr("height", p.b - p.t);
  const plot = g.append("g").attr("clip-path", `url(#${clipId})`);
  const line = d3.line().x(d => x(d[0])).y(d => y(d[1]));

  // simulated particles envelope
  const poly = p.upper.concat(p.lower.slice().reverse());
  plot.append("path").attr("d", line(poly) + "Z").attr("fill", GRAY_FILL).attr("stroke", "none");

  // grid
  TIME_TICKS.forEach(t => plot.append("line").attr("x1", x(t)).attr("x2", x(t)).attr("y1", p.t).attr("y2", p.b)
    .attr("stroke", GRID).attr("stroke-width", 2));
  p.yticks.forEach(v => plot.append("line").attr("x1", p.l).attr("x2", p.r).attr("y1", y(v)).attr("y2", y(v))
    .attr("stroke", GRID).attr("stroke-width", 2));

  // tracked simulated particles (dashed)
  p.tracks.forEach(([s, k]) => {
    plot.append("path").attr("d", line(s)).attr("fill", "none")
      .attr("stroke", TRACK_COLORS[k]).attr("stroke-opacity", 0.4).attr("stroke-width", 5)
      .attr("stroke-dasharray", "7,5");
  });

  // measured particles (outlined)
  p.meas.forEach((s, k) => {
    plot.append("path").attr("d", line(s)).attr("fill", "none").attr("stroke", "#000")
      .attr("stroke-width", 3.8).attr("stroke-linejoin", "round");
    plot.append("path").attr("d", line(s)).attr("fill", "none").attr("stroke", MEAS_COLORS[k])
      .attr("stroke-width", 1.8).attr("stroke-linejoin", "round");
  });

  // spines
  g.append("rect").attr("x", p.l).attr("y", p.t).attr("width", p.r - p.l).attr("height", p.b - p.t)
    .attr("fill", "none").attr("stroke", "#000").attr("stroke-width", 2);

  // axes
  const xAxis = d3.axisBottom(x).tickValues(TIME_TICKS).tickSize(9.5).tickPadding(6).tickFormat(d3.format("d"));
  const ga = g.append("g").attr("transform", `translate(0,${p.b})`).call(xAxis);
  const yAxis = d3.axisLeft(y).tickValues(p.yticks).tickSize(9.5).tickPadding(7).tickFormat(d3.format(p.fmt));
  const gy = g.append("g").attr("transform", `translate(${p.l},0)`).call(yAxis);
  [ga, gy].forEach(a => {
    a.select(".domain").remove();
    a.selectAll(".tick line").attr("stroke", "#000").attr("stroke-width", 2);
    a.selectAll(".tick text").attr("font-size", 24).attr("fill", "#000");
  });

  // x label
  g.append("text").attr("x", (p.l + p.r) / 2 + 3).attr("y", p.b + 69).attr("text-anchor", "middle")
    .attr("font-size", 26).text("Time (s)");
  // y label
  const yl = g.append("text").attr("transform", `translate(${p.labelX},${(p.t + p.b) / 2}) rotate(-90)`)
    .attr("text-anchor", "middle").attr("font-size", 26);
  yl.append("tspan").text(p.label);
  yl.append("tspan").attr("dy", -9).attr("font-size", 18).text("\u2212");
  yl.append("tspan").attr("dy", 9).text("1)");
});

// ---------------- LEGEND ----------------
const lg = svg.append("g");
lg.append("rect").attr("x", 177.5).attr("y", 8.5).attr("width", 965).attr("height", 76).attr("rx", 5)
  .attr("fill", "#fff").attr("fill-opacity", 0.8).attr("stroke", "#cccccc").attr("stroke-width", 2);
const colX = [185, 502, 858];
const textX = [237, 571, 915];
const rowY = [30, 62];
const HANDLE_LEN = 42;
lg.append("line").attr("x1", colX[0]).attr("x2", colX[0] + HANDLE_LEN).attr("y1", rowY[0]).attr("y2", rowY[0])
  .attr("stroke", "#000").attr("stroke-width", 3);
lg.append("line").attr("x1", colX[1]).attr("x2", colX[1] + HANDLE_LEN).attr("y1", rowY[0]).attr("y2", rowY[0])
  .attr("stroke", "#000").attr("stroke-width", 3).attr("stroke-dasharray", "13,9");
lg.append("line").attr("x1", colX[2]).attr("x2", colX[2] + HANDLE_LEN).attr("y1", rowY[0]).attr("y2", rowY[0])
  .attr("stroke", "#c4c4c4").attr("stroke-width", 6);
LEGEND_STYLE_NAMES.forEach((n, k) => lg.append("text").attr("x", textX[k]).attr("y", rowY[0] + 9)
  .attr("font-size", 28).text(n));
SERIES_NAMES.forEach((n, k) => {
  lg.append("line").attr("x1", colX[k]).attr("x2", colX[k] + HANDLE_LEN).attr("y1", rowY[1]).attr("y2", rowY[1])
    .attr("stroke", LEGEND_COLORS[k]).attr("stroke-width", 3);
  lg.append("text").attr("x", textX[k]).attr("y", rowY[1] + 9).attr("font-size", 28).text(n);
});
</script>
</body></html>
